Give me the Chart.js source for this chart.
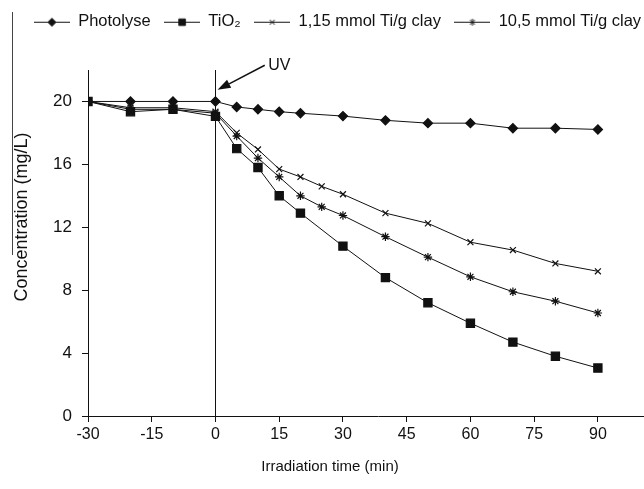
<!DOCTYPE html>
<html>
<head>
<meta charset="utf-8">
<script src="https://cdn.jsdelivr.net/npm/chart.js@4/dist/chart.umd.min.js"></script>
<style>
  html, body { margin: 0; padding: 0; background: #fff; overflow: hidden; }
  #wrap { position: relative; width: 675px; height: 489px; }
  #edge { position: absolute; left: 12px; top: 12px; width: 0; height: 243px; border-left: 1px solid #444; }
</style>
</head>
<body>
<div id="wrap">
  <canvas id="c" width="675" height="489"></canvas>
  <div id="edge"></div>
</div>
<script>
// ---- data ----
const seriesNames = ['Photolyse', 'TiO\u2082', '1,15 mmol Ti/g clay', '10,5 mmol Ti/g clay'];
const timePhotolyse = [-30, -20, -10, 0, 5, 10, 15, 20, 30, 40, 50, 60, 70, 80, 90];
const photolyse     = [20.0, 20.0, 20.0, 20.0, 19.65, 19.5, 19.35, 19.25, 19.07, 18.8, 18.62, 18.62, 18.3, 18.3, 18.22];
const timeTiO2      = [-30, -20, -10, 0, 5, 10, 15, 20, 30, 40, 50, 60, 70, 80, 90];
const tio2          = [20.0, 19.35, 19.5, 19.05, 17.0, 15.8, 14.0, 12.9, 10.8, 8.8, 7.2, 5.9, 4.7, 3.8, 3.05];
const timeClay      = [-30, -20, -10, 0, 5, 10, 15, 20, 25, 30, 40, 50, 60, 70, 80, 90];
const clay115       = [20.0, 19.6, 19.6, 19.35, 18.0, 16.95, 15.7, 15.2, 14.6, 14.1, 12.9, 12.25, 11.05, 10.55, 9.7, 9.2];
const clay105       = [20.0, 19.5, 19.5, 19.25, 17.8, 16.4, 15.2, 14.0, 13.3, 12.75, 11.4, 10.1, 8.85, 7.9, 7.3, 6.55];
const xTicks = [-30, -15, 0, 15, 30, 45, 60, 75, 90];
const yTicks = [0, 4, 8, 12, 16, 20];
const uvTime = 0;
const uvLabel = 'UV';
const xTitle = 'Irradiation time (min)';
const yTitle = 'Concentration (mg/L)';

const FONT = "'Liberation Sans', Arial, sans-serif";
const INK = '#111';

function pairs(xs, ys) { return xs.map((x, i) => ({ x: x, y: ys[i] })); }

const styles = [
  { pointStyle: 'rectRot', radius: 4.6, legendRadius: 4, fill: true },
  { pointStyle: 'rect', radius: 5.8, legendRadius: 4.6, fill: true },
  { pointStyle: 'crossRot', radius: 4.2, legendRadius: 3.5, fill: false },
  { pointStyle: 'star', radius: 4.2, legendRadius: 3.5, fill: false }
];

const LEG_W = 36;
function legendImage(st) {
  const cv = document.createElement('canvas');
  cv.width = LEG_W; cv.height = 14;
  const g = cv.getContext('2d');
  g.strokeStyle = INK; g.fillStyle = INK; g.lineWidth = 1;
  g.beginPath(); g.moveTo(0, 7.5); g.lineTo(LEG_W, 7.5); g.stroke();
  Chart.helpers.drawPoint(g, { pointStyle: st.pointStyle, radius: st.legendRadius, rotation: 0, borderWidth: 1 }, LEG_W / 2, 7.5);
  return cv;
}

const seriesData = [pairs(timePhotolyse, photolyse), pairs(timeTiO2, tio2), pairs(timeClay, clay115), pairs(timeClay, clay105)];

const datasets = seriesData.map((d, i) => ({
  label: seriesNames[i],
  data: d,
  borderColor: INK,
  backgroundColor: INK,
  borderWidth: 1,
  pointStyle: styles[i].pointStyle,
  pointRadius: styles[i].radius,
  pointHoverRadius: styles[i].radius,
  pointBorderColor: INK,
  pointBackgroundColor: INK,
  pointBorderWidth: 1.2,
  tension: 0,
  fill: false
}));

const uvPlugin = {
  id: 'uvMark',
  afterDatasetsDraw(chart) {
    const { ctx, chartArea, scales } = chart;
    const xs = scales.x, ys = scales.y;
    const x0 = Math.round(xs.getPixelForValue(uvTime)) + 0.5;
    ctx.save();
    ctx.strokeStyle = INK; ctx.lineWidth = 1;
    ctx.beginPath(); ctx.moveTo(x0, chartArea.top); ctx.lineTo(x0, chartArea.bottom); ctx.stroke();
    // arrow
    const tx = xs.getPixelForValue(uvTime + 0.5), ty = ys.getPixelForValue(20.74);
    const sx = xs.getPixelForValue(uvTime + 11.6), sy = ys.getPixelForValue(22.3);
    const ang = Math.atan2(ty - sy, tx - sx);
    const len = 13, half = 4.5;
    const bx = tx - Math.cos(ang) * len, by = ty - Math.sin(ang) * len;
    ctx.lineWidth = 1.5;
    ctx.beginPath(); ctx.moveTo(sx, sy); ctx.lineTo(bx, by); ctx.stroke();
    ctx.fillStyle = INK;
    ctx.beginPath();
    ctx.moveTo(tx, ty);
    ctx.lineTo(bx + Math.sin(ang) * half, by - Math.cos(ang) * half);
    ctx.lineTo(bx - Math.sin(ang) * half, by + Math.cos(ang) * half);
    ctx.closePath(); ctx.fill();
    ctx.font = '16px ' + FONT;
    ctx.textAlign = 'left'; ctx.textBaseline = 'middle';
    ctx.fillText(uvLabel, xs.getPixelForValue(uvTime + 12.4), ys.getPixelForValue(22.3));
    ctx.restore();
  }
};

// axis titles placed as in the reference (not centred on the plot area)
const titlesPlugin = {
  id: 'axisTitles',
  afterDraw(chart) {
    const ctx = chart.ctx;
    ctx.save();
    ctx.fillStyle = INK;
    ctx.textAlign = 'center'; ctx.textBaseline = 'middle';
    ctx.font = '15px ' + FONT;
    ctx.fillText(xTitle, 330, 467);
    ctx.translate(22, 217);
    ctx.rotate(-Math.PI / 2);
    ctx.font = '18px ' + FONT;
    ctx.fillText(yTitle, 0, 0);
    ctx.restore();
  }
};

const legendHeightPlugin = {
  id: 'legendHeight',
  beforeInit(chart) {
    const lg = chart.legend;
    if (!lg) return;
    const orig = lg.fit;
    lg.fit = function () { orig.call(this); this.height = 70; };
  }
};

new Chart(document.getElementById('c'), {
  type: 'line',
  data: { datasets: datasets },
  plugins: [legendHeightPlugin, uvPlugin, titlesPlugin],
  options: {
    responsive: false,
    animation: false,
    events: [],
    layout: { padding: { left: 0, right: 0, top: 0, bottom: 0 } },
    plugins: {
      tooltip: { enabled: false },
      legend: {
        display: true,
        position: 'top',
        labels: {
          usePointStyle: true,
          pointStyleWidth: LEG_W,
          padding: 13.5,
          color: INK,
          font: { family: FONT, size: 16.5 },
          generateLabels(chart) {
            return chart.data.datasets.map((ds, i) => ({
              text: ds.label,
              fillStyle: INK,
              strokeStyle: INK,
              lineWidth: 0,
              pointStyle: legendImage(styles[i]),
              datasetIndex: i,
              hidden: false,
              fontColor: INK
            }));
          }
        }
      }
    },
    scales: {
      x: {
        type: 'linear',
        min: -30,
        max: 106.5,
        afterBuildTicks(scale) { scale.ticks = xTicks.map(v => ({ value: v })); },
        afterFit(scale) { scale.height = 73; },
        ticks: { color: INK, font: { family: FONT, size: 16 }, padding: 3, maxRotation: 0, autoSkip: false },
        grid: { display: true, drawOnChartArea: false, drawTicks: true, tickLength: 6, color: INK, lineWidth: 1 },
        border: { display: true, color: INK, width: 1 },
        title: { display: false }
      },
      y: {
        type: 'linear',
        min: 0,
        max: 22,
        afterBuildTicks(scale) { scale.ticks = yTicks.map(v => ({ value: v })); },
        afterFit(scale) { scale.width = 88; },
        ticks: { color: INK, font: { family: FONT, size: 17 }, padding: 10 },
        grid: { display: true, drawOnChartArea: false, drawTicks: true, tickLength: 6, color: INK, lineWidth: 1 },
        border: { display: true, color: INK, width: 1 },
        title: { display: false }
      }
    }
  }
});
</script>
</body>
</html>
